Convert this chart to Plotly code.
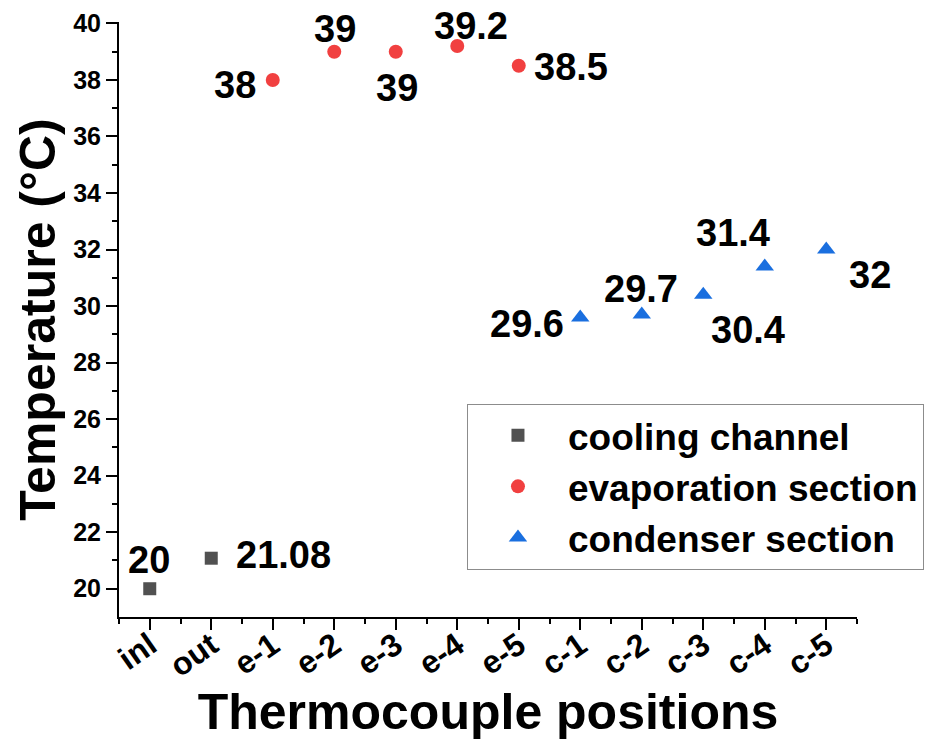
import plotly.graph_objects as go

# ---- data ----
positions = ["inl", "out", "e-1", "e-2", "e-3", "e-4", "e-5",
             "c-1", "c-2", "c-3", "c-4", "c-5"]

cooling_pos = ["inl", "out"]
cooling_temp = [20, 21.08]
cooling_text = ["20", "21.08"]

evap_pos = ["e-1", "e-2", "e-3", "e-4", "e-5"]
evap_temp = [38, 39, 39, 39.2, 38.5]
evap_text = ["38", "39", "39", "39.2", "38.5"]

cond_pos = ["c-1", "c-2", "c-3", "c-4", "c-5"]
cond_temp = [29.6, 29.7, 30.4, 31.4, 32]
cond_text = ["29.6", "29.7", "30.4", "31.4", "32"]

y_ticks = [20, 22, 24, 26, 28, 30, 32, 34, 36, 38, 40]

# ---- style: label offsets in screen pixels (dx right, dy down) ----
cooling_off = [(-1, -29), (72, -3)]
evap_off = [(-38, 5), (1, -23), (1, 36), (14, -20), (52, 1)]
cond_off = [(-53, 7), (-1, -26), (45, 35), (-32, -34), (44, 25)]

FONT = "Arial, 'Liberation Sans', Helvetica, sans-serif"
idx = {p: i for i, p in enumerate(positions)}

series = [
    ("cooling channel", cooling_pos, cooling_temp, cooling_text, cooling_off, "square", 13, "#515151"),
    ("evaporation section", evap_pos, evap_temp, evap_text, evap_off, "circle", 14, "#F14040"),
    ("condenser section", cond_pos, cond_temp, cond_text, cond_off, "triangle-up", 16, "#1A6FDF"),
]

fig = go.Figure()
annotations = []
for name, pos, temp, text, off, sym, size, col in series:
    xs = [idx[p] for p in pos]
    fig.add_trace(go.Scatter(
        x=xs, y=temp, mode="markers", name=name,
        marker=dict(symbol=sym, size=size, color=col, line=dict(width=0)),
    ))
    for x, y, t, (dx, dy) in zip(xs, temp, text, off):
        annotations.append(dict(
            x=x, y=y, xref="x", yref="y", text=t, showarrow=False,
            xanchor="center", yanchor="middle", xshift=dx, yshift=-dy,
            font=dict(family=FONT, size=38, color="black", weight="bold"),
        ))

fig.update_layout(
    width=939, height=740,
    margin=dict(l=111, r=90, t=14, b=131, autoexpand=False),
    paper_bgcolor="white", plot_bgcolor="white",
    font=dict(family=FONT, color="black"),
    annotations=annotations,
    showlegend=True,
    legend=dict(
        x=0.4715, y=0.3585, xanchor="left", yanchor="top",
        font=dict(family=FONT, size=37, color="black", weight="bold"),
        bordercolor="#8c8c8c", borderwidth=1, bgcolor="white",
        itemwidth=90, tracegroupgap=0,
    ),
    xaxis=dict(
        range=[-0.5, 11.5], tickmode="array",
        tickvals=list(range(len(positions))), ticktext=positions,
        tickangle=-35, ticklabelstandoff=-16,
        tickfont=dict(family=FONT, size=32, color="black", weight="bold"),
        ticks="outside", ticklen=11, tickwidth=2, tickcolor="black",
        showline=True, linewidth=2, linecolor="black",
        showgrid=False, zeroline=False,
        minor=dict(tickmode="array",
                   tickvals=[i - 0.5 for i in range(len(positions) + 1)],
                   ticks="outside", ticklen=5, tickwidth=2, tickcolor="black",
                   showgrid=False),
        title=dict(text="Thermocouple positions",
                   font=dict(family=FONT, size=50, color="black", weight="bold"),
                   standoff=6),
    ),
    yaxis=dict(
        range=[19, 40.05], tickmode="array", tickvals=y_ticks,
        tickfont=dict(family=FONT, size=25, color="black", weight="bold"),
        ticks="outside", ticklen=11, tickwidth=2, tickcolor="black",
        showline=True, linewidth=2, linecolor="black",
        showgrid=False, zeroline=False,
        minor=dict(tickmode="array",
                   tickvals=[v + 1 for v in y_ticks[:-1]],
                   ticks="outside", ticklen=5, tickwidth=2, tickcolor="black",
                   showgrid=False),
        title=dict(text="Temperature (°C)",
                   font=dict(family=FONT, size=50, color="black", weight="bold"),
                   standoff=2),
    ),
)

fig.write_html("out.html")
